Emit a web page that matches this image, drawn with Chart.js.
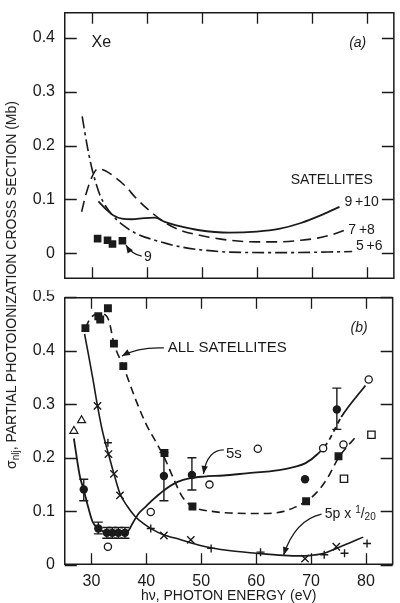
<!DOCTYPE html>
<html><head><meta charset="utf-8">
<script src="https://cdn.jsdelivr.net/npm/chart.js@4.4.0/dist/chart.umd.min.js"></script>
<style>
html,body{margin:0;padding:0;background:#fff;}
#wrap{position:relative;width:400px;height:603px;overflow:hidden;background:#fff;}
canvas{position:absolute;left:0;}
#cTop{top:0}
#cBot{top:290px}
#yt{position:absolute;left:0;top:0;transform:translate(-50%,-50%) rotate(-90deg);white-space:nowrap;font:14px 'Liberation Sans',Arial,sans-serif;color:#1a1a1a;}
#yt sub{font-size:10px;vertical-align:-3px;}
</style></head>
<body>
<div id="wrap">
<canvas id="cTop" width="400" height="290"></canvas>
<canvas id="cBot" width="400" height="313"></canvas>
<div style="position:absolute;left:12px;top:285px;width:0;height:0"><div id="yt">σ<sub>nlj</sub>, PARTIAL PHOTOIONIZATION CROSS SECTION (Mb)</div></div>
</div>
<script>
// ---------------- data ----------------
const xTicks = [30, 40, 50, 60, 70, 80];
const yTicksTop = [0, 0.1, 0.2, 0.3, 0.4];
const yTicksBot = [0, 0.1, 0.2, 0.3, 0.4, 0.5];

// (a) satellites
const sat56X = [28.3, 29.2, 30.0, 30.8, 31.6, 32.6, 34.0, 35.6, 38.0, 41.5, 46.0, 50.0, 55.0, 65.0, 77.3];
const sat56Y = [0.254, 0.200, 0.160, 0.130, 0.106, 0.087, 0.068, 0.053, 0.037, 0.024, 0.012, 0.006, 0.002, 0.001, 0.003];
const sat78X = [28.2, 29.0, 30.0, 31.2, 32.5, 34.0, 36.2, 38.0, 40.4, 43.3, 46.0, 49.3, 55.0, 60.0, 64.0, 68.0, 71.0, 73.5, 76.0];
const sat78Y = [0.077, 0.110, 0.140, 0.157, 0.153, 0.143, 0.124, 0.103, 0.080, 0.057, 0.043, 0.034, 0.024, 0.021, 0.021, 0.024, 0.028, 0.034, 0.043];
const sat910X = [31.25, 32.5, 34.0, 35.5, 37.3, 39.5, 41.5, 43.3, 46.0, 49.3, 55.0, 60.0, 64.0, 68.0, 72.0, 75.0];
const sat910Y = [0.096, 0.083, 0.070, 0.064, 0.063, 0.065, 0.066, 0.058, 0.050, 0.043, 0.038, 0.040, 0.045, 0.056, 0.072, 0.086];
const sat9X = [31.1, 32.9, 33.8, 35.6];
const sat9Y = [0.027, 0.024, 0.017, 0.023];

// (b) all satellites, 5s, 5p
const allSatX = [28.9, 31.25, 31.6, 33.0, 34.1, 35.8, 43.3, 48.4, 69.1, 75.0];
const allSatY = [0.442, 0.464, 0.458, 0.479, 0.413, 0.371, 0.209, 0.109, 0.119, 0.203];
const allSatOpenX = [81.0, 76.0];
const allSatOpenY = [0.243, 0.161];
const allSatCurveX = [28.9, 29.8, 31.0, 32.0, 33.2, 34.1, 35.8, 38.0, 40.0, 42.0, 43.3, 45.0, 46.5, 48.4, 52.0, 55.2, 61.2, 65.0, 67.1, 69.1, 71.0, 73.1, 75.0, 78.4];
const allSatCurveY = [0.442, 0.460, 0.468, 0.468, 0.455, 0.413, 0.371, 0.310, 0.262, 0.225, 0.200, 0.160, 0.128, 0.109, 0.100, 0.097, 0.096, 0.100, 0.108, 0.119, 0.135, 0.164, 0.200, 0.242];

const s5FilledX = [28.6, 31.25, 32.8, 33.8, 34.9, 36.1, 43.2, 48.3, 68.9, 74.7];
const s5FilledY = [0.141, 0.068, 0.060, 0.060, 0.060, 0.060, 0.166, 0.168, 0.160, 0.290];
const s5ErrX  = [28.6, 31.25, 32.8, 33.8, 34.9, 36.1, 43.2, 48.3, 74.7];
const s5ErrLo = [0.120, 0.058, 0.050, 0.050, 0.050, 0.050, 0.120, 0.140, 0.253];
const s5ErrHi = [0.160, 0.080, 0.070, 0.070, 0.070, 0.070, 0.210, 0.200, 0.330];
const s5OpenX = [33.0, 40.8, 51.5, 60.3, 72.2, 75.9, 80.5];
const s5OpenY = [0.034, 0.099, 0.150, 0.217, 0.218, 0.225, 0.346];
const s5CurveX = [26.8, 27.4, 27.9, 28.6, 29.4, 30.2, 31.25, 32.5, 36.5, 37.5, 38.6, 40.0, 41.0, 43.3, 45.7, 48.0, 50.5, 54.0, 58.2, 64.2, 67.0, 69.0, 71.3, 73.1, 75.5, 79.9];
const s5CurveY = [0.236, 0.195, 0.165, 0.140, 0.108, 0.081, 0.068, 0.062, 0.062, 0.078, 0.096, 0.110, 0.120, 0.140, 0.155, 0.162, 0.165, 0.167, 0.171, 0.177, 0.183, 0.190, 0.208, 0.230, 0.276, 0.335];
const triX = [26.8, 28.2];
const triY = [0.250, 0.270];

const p5CrossX = [31.1, 33.1, 34.1, 35.2, 43.2, 48.1, 68.9, 74.6];
const p5CrossY = [0.297, 0.207, 0.170, 0.130, 0.055, 0.047, 0.012, 0.034];
const p5PlusX = [33.0, 40.8, 51.8, 60.8, 72.4, 76.1, 80.2];
const p5PlusY = [0.228, 0.068, 0.031, 0.024, 0.019, 0.022, 0.040];
const p5CurveX = [28.75, 29.5, 30.3, 31.1, 32.0, 33.1, 34.1, 35.2, 36.5, 38.0, 39.5, 41.0, 43.0, 46.0, 50.0, 55.0, 60.0, 65.0, 68.0, 70.0, 72.4, 74.6, 77.0, 79.5];
const p5CurveY = [0.431, 0.390, 0.345, 0.297, 0.250, 0.207, 0.170, 0.133, 0.110, 0.090, 0.077, 0.067, 0.057, 0.048, 0.036, 0.027, 0.022, 0.018, 0.017, 0.018, 0.022, 0.031, 0.041, 0.052];

// ---------------- rendering ----------------
const INK = '#1a1a1a';
const FONT = "'Liberation Sans', Arial, sans-serif";
const pts = (xs, ys) => xs.map((x, i) => ({x: x, y: ys[i]}));

const framePlugin = {
  id: 'frame',
  beforeDatasetsDraw(chart, args, o) {
    const {ctx, scales: {x, y}} = chart;
    ctx.save();
    ctx.strokeStyle = INK; ctx.lineWidth = 1.4;
    (o.errors || []).forEach(e => {
      e.x.forEach((xv, i) => {
        const px = x.getPixelForValue(xv), a = y.getPixelForValue(e.lo[i]), b = y.getPixelForValue(e.hi[i]);
        ctx.beginPath();
        ctx.moveTo(px, a); ctx.lineTo(px, b);
        ctx.moveTo(px - 4.5, a); ctx.lineTo(px + 4.5, a);
        ctx.moveTo(px - 4.5, b); ctx.lineTo(px + 4.5, b);
        ctx.stroke();
      });
    });
    ctx.restore();
  },
  afterDatasetsDraw(chart, args, o) {
    const {ctx, chartArea: a, scales: {x, y}} = chart;
    ctx.save();
    ctx.strokeStyle = INK; ctx.fillStyle = INK;
    ctx.lineWidth = 1.5;
    const L = a.left + 0.75, R = a.right - 0.75, T = a.top + 0.75, B = a.bottom - 0.75;
    ctx.strokeRect(L, T, R - L, B - T);
    ctx.lineWidth = 1.3;
    ctx.beginPath();
    x.ticks.forEach(t => {
      const px = Math.round(x.getPixelForValue(t.value)) + 0.5;
      ctx.moveTo(px, B); ctx.lineTo(px, B - 11);
      ctx.moveTo(px, T); ctx.lineTo(px, T + 11);
    });
    y.ticks.forEach(t => {
      const py = Math.round(y.getPixelForValue(t.value)) + 0.5;
      ctx.moveTo(L, py); ctx.lineTo(L + 12, py);
      ctx.moveTo(R, py); ctx.lineTo(R - 12, py);
    });
    ctx.stroke();
    // arrows
    ctx.lineWidth = 1.3;
    (o.arrows || []).forEach(ar => {
      const p0 = [x.getPixelForValue(ar.from[0]), y.getPixelForValue(ar.from[1])];
      const c = [x.getPixelForValue(ar.ctrl[0]), y.getPixelForValue(ar.ctrl[1])];
      const p1 = [x.getPixelForValue(ar.to[0]), y.getPixelForValue(ar.to[1])];
      ctx.beginPath(); ctx.moveTo(p0[0], p0[1]); ctx.quadraticCurveTo(c[0], c[1], p1[0], p1[1]); ctx.stroke();
      const ang = Math.atan2(p1[1] - c[1], p1[0] - c[0]);
      const len = 8, w = 3.2;
      ctx.beginPath();
      ctx.moveTo(p1[0], p1[1]);
      ctx.lineTo(p1[0] - len * Math.cos(ang) + w * Math.sin(ang), p1[1] - len * Math.sin(ang) - w * Math.cos(ang));
      ctx.lineTo(p1[0] - len * Math.cos(ang) - w * Math.sin(ang), p1[1] - len * Math.sin(ang) + w * Math.cos(ang));
      ctx.closePath(); ctx.fill();
    });
    // texts
    ctx.textBaseline = 'middle';
    (o.texts || []).forEach(t => {
      let px = x.getPixelForValue(t.x); const py = y.getPixelForValue(t.y);
      const parts = t.parts || [{t: t.text, font: t.font, dy: 0}];
      if (t.align === 'center') {
        let w = 0; parts.forEach(p => { ctx.font = p.font; w += ctx.measureText(p.t).width; });
        px -= w / 2;
      }
      ctx.textAlign = 'left';
      parts.forEach(p => { ctx.font = p.font; ctx.fillText(p.t, px, py + (p.dy || 0)); px += ctx.measureText(p.t).width; });
    });
    ctx.restore();
  }
};
Chart.register(framePlugin);

function zeroPad(s) { s.paddingTop = 0; s.paddingBottom = 0; s.paddingLeft = 0; s.paddingRight = 0; }

function makeOptions(yMin, yMax, yTicks, padTop, xHeight, showX, frameOpts) {
  return {
    responsive: false, animation: false, events: [],
    layout: {padding: {top: padTop, left: 0, right: 0, bottom: 0}},
    plugins: {legend: {display: false}, tooltip: {enabled: false}, frame: frameOpts},
    elements: {line: {cubicInterpolationMode: 'monotone', borderColor: INK, borderWidth: 1.6, fill: false}},
    scales: {
      x: {
        type: 'linear', min: 25, max: 85,
        grid: {display: false, drawTicks: false, tickLength: 0}, border: {display: false},
        afterBuildTicks: s => { s.ticks = xTicks.map(v => ({value: v})); },
        ticks: {display: showX, autoSkip: false, maxRotation: 0, padding: 7, color: INK, font: {family: FONT, size: 16}, callback: v => String(v)},
        title: {display: showX, text: 'hν, PHOTON ENERGY (eV)', color: INK, font: {family: FONT, size: 14}, padding: {top: 0, bottom: -2}},
        afterFit: s => { s.height = xHeight; zeroPad(s); }
      },
      y: {
        type: 'linear', min: yMin, max: yMax,
        grid: {display: false, drawTicks: false, tickLength: 0}, border: {display: false},
        afterBuildTicks: s => { s.ticks = yTicks.map(v => ({value: v})); },
        ticks: {autoSkip: false, padding: 9, color: INK, font: {family: FONT, size: 16}, callback: v => (v === 0 ? '0' : v.toFixed(1))},
        afterFit: s => { s.width = 64; zeroPad(s); }
      }
    }
  };
}

const F14 = '14px ' + FONT, F15 = '15px ' + FONT, F16 = '16px ' + FONT;

// top chart (a)
new Chart(document.getElementById('cTop'), {
  type: 'line',
  data: {datasets: [
    {data: pts(sat9X, sat9Y), showLine: false, pointStyle: 'rect', pointRadius: 5.4, pointBackgroundColor: INK, pointBorderWidth: 0},
    {data: pts(sat910X, sat910Y), pointRadius: 0, borderWidth: 1.8},
    {data: pts(sat78X, sat78Y), pointRadius: 0, borderDash: [11, 6]},
    {data: pts(sat56X, sat56Y), pointRadius: 0, borderDash: [12, 4, 3, 4]}
  ]},
  options: makeOptions(-0.048, 0.448, yTicksTop, 12, 11, false, {
    texts: [
      {text: 'Xe', x: 30.0, y: 0.391, font: F16},
      {text: '(a)', x: 78.3, y: 0.391, font: 'italic 14px ' + FONT, align: 'center'},
      {text: 'SATELLITES', x: 73.6, y: 0.136, font: F14, align: 'center'},
      {text: '9\u2009+10', x: 75.9, y: 0.095, font: F14},
      {text: '7\u2009+8', x: 76.6, y: 0.043, font: F14},
      {text: '5\u2009+6', x: 78.0, y: 0.013, font: F14},
      {text: '9', x: 39.5, y: -0.0074, font: F14}
    ],
    arrows: [
      {from: [39.1, -0.0056], ctrl: [37.3, -0.002], to: [36.25, 0.0149]}
    ]
  })
});

// bottom chart (b)
new Chart(document.getElementById('cBot'), {
  type: 'line',
  data: {datasets: [
    {data: pts(allSatX, allSatY), showLine: false, pointStyle: 'rect', pointRadius: 5.6, pointBackgroundColor: INK, pointBorderWidth: 0},
    {data: pts(allSatOpenX, allSatOpenY), showLine: false, pointStyle: 'rect', pointRadius: 5.2, pointBackgroundColor: '#fff', pointBorderColor: INK, pointBorderWidth: 1.3},
    {data: pts(s5FilledX, s5FilledY), showLine: false, pointStyle: 'circle', pointRadius: 4.2, pointBackgroundColor: INK, pointBorderWidth: 0},
    {data: pts(s5OpenX, s5OpenY), showLine: false, pointStyle: 'circle', pointRadius: 3.6, pointBackgroundColor: '#fff', pointBorderColor: INK, pointBorderWidth: 1.3},
    {data: pts(triX, triY), showLine: false, pointStyle: 'triangle', pointRadius: 4.6, pointBackgroundColor: '#fff', pointBorderColor: INK, pointBorderWidth: 1.2},
    {data: pts(p5CrossX, p5CrossY), showLine: false, pointStyle: 'crossRot', pointRadius: 5.2, pointBorderColor: INK, pointBorderWidth: 1.4},
    {data: pts(p5PlusX, p5PlusY), showLine: false, pointStyle: 'cross', pointRadius: 4, pointBorderColor: INK, pointBorderWidth: 1.4},
    {data: pts(allSatCurveX, allSatCurveY), pointRadius: 0, borderDash: [8, 5]},
    {data: pts(s5CurveX, s5CurveY), pointRadius: 0, borderWidth: 1.8,
     segment: {borderDash: c => (c.p0.parsed.x >= 71.3 && c.p1.parsed.x <= 75.5 ? [5, 4] : undefined)}},
    {data: pts(p5CurveX, p5CurveY), pointRadius: 0, borderWidth: 1.6}
  ]},
  options: makeOptions(0, 0.5, yTicksBot, 7, 38, true, {
    errors: [{x: s5ErrX, lo: s5ErrLo, hi: s5ErrHi}],
    texts: [
      {text: '(b)', x: 78.75, y: 0.442, font: 'italic 14px ' + FONT, align: 'center'},
      {text: 'ALL SATELLITES', x: 43.9, y: 0.405, font: F15},
      {text: '5s', x: 54.5, y: 0.207, font: F15},
      {x: 72.5, y: 0.095, parts: [
        {t: '5p x ', font: F14, dy: 0},
        {t: '1', font: '10px ' + FONT, dy: -4},
        {t: '/', font: F14, dy: 0},
        {t: '20', font: '10px ' + FONT, dy: 3}
      ]}
    ],
    arrows: [
      {from: [43.2, 0.405], ctrl: [38.6, 0.407], to: [35.55, 0.390]},
      {from: [54.1, 0.2146], ctrl: [51.1, 0.2146], to: [50.4, 0.170]},
      {from: [71.9, 0.095], ctrl: [67.1, 0.084], to: [65.0, 0.0187]}
    ]
  })
});
</script>
</body></html>
